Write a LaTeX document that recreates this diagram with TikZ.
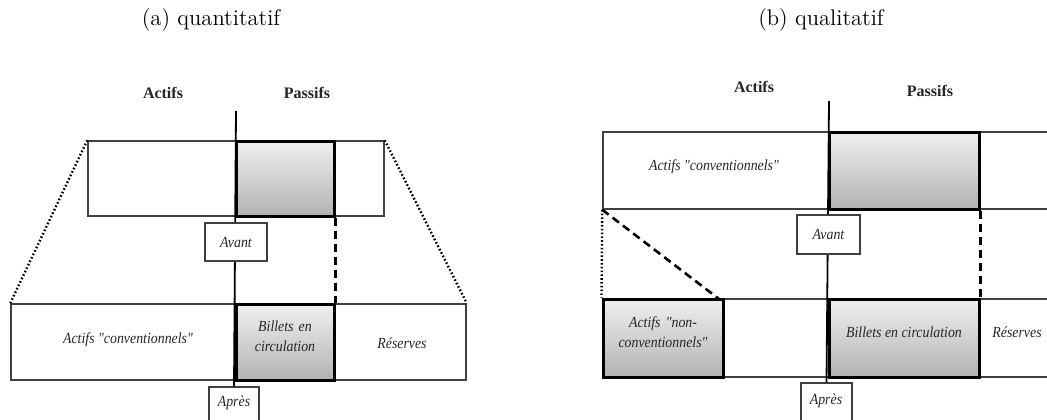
\documentclass[tikz,border=0pt]{standalone}
\usepackage{fontspec}
\newfontfamily\tnr{Liberation Serif}
\newfontfamily\tnri{Liberation Serif}[FakeStretch=0.9]
\usetikzlibrary{fit,shadows}
\begin{document}
\begin{tikzpicture}[x=0.5pt,y=-0.5pt,
  thinbox/.style={draw=black!75, line width=0.75pt, inner sep=0pt},
  graybox/.style={draw=black, line width=1.5pt, inner sep=0pt, top color=black!6, bottom color=black!30,
     drop shadow={opacity=0.25, shadow xshift=0.6pt, shadow yshift=-0.9pt}},
  lab/.style={font=\tnri\itshape\fontsize{7.7}{9}\selectfont, text=black!85},
  head/.style={font=\tnr\bfseries\fontsize{8}{9}\selectfont, text=black!85},
  captext/.style={font=\fontsize{11.3}{13}\selectfont},
  tagbox/.style={draw=black!75, line width=0.6pt, fill=white, inner sep=0pt, lab},
  axis/.style={line width=0.9pt, draw=black},
  dsh/.style={line width=1.3pt, dash pattern=on 4pt off 2.5pt},
  dts/.style={line width=1.2pt, dash pattern=on 0.8pt off 1.1pt}]
\useasboundingbox (0,0) rectangle (1047,419);

% captions
\node[captext] (capA) at (211,20) {(a) quantitatif};
\node[captext] (capB) at (821,20) {(b) qualitatif};

% ---------------- (a) ----------------
\node[head] (actA) at (163,93) {Actifs};
\node[head] (pasA) at (307,93) {Passifs};
\coordinate (vtopA) at (236,111);

\node[thinbox, fit={(88,141) (384,216)}] (topA) {};
\node[thinbox, fit={(11,304) (466,380)}] (botA) {};
\node[graybox, fit={(236,141) (334,216)}] (gtopA) {};
\node[graybox, fit={(236,304) (334,380)}, lab, align=center] (billA) {Billets en\\[1pt]circulation};
\node[lab] (convA) at (128,340) {Actifs "conventionnels"};
\node[lab] (resA) at (402,343) {Réserves};

\node[tagbox, fit={(209,387) (259,430)}] (aprA) {};
\draw[axis] (vtopA) -- (aprA.north);
\node[tagbox, fit={(205,223) (267,261)}] (avA) {};
\node[lab] (avAt) at (avA.center) {Avant};
\node[lab] (aprAt) at (234,403) {Après};

\draw[dsh] (gtopA.south east) -- (billA.north east);
\draw[dts] (topA.north west) -- (botA.north west);
\draw[dts] (topA.north east) -- (botA.north east);

% ---------------- (b) ----------------
\node[head] (actB) at (754,87) {Actifs};
\node[head] (pasB) at (930,91) {Passifs};
\coordinate (vtopB) at (829,101);

\node[thinbox, fit={(603,132) (1070,209)}] (topB) {};
\node[thinbox, fit={(603,299) (1070,377)}] (botB) {};
\node[graybox, fit={(829,132) (979,209)}] (gtopB) {};
\node[lab] (convB) at (714,167) {Actifs "conventionnels"};
\node[graybox, fit={(603,299) (723,377)}, lab, align=center] (nconvB) {Actifs "non-\\[1pt]conventionnels"};
\node[graybox, fit={(829,299) (979,377)}, lab] (billB) {Billets en circulation};
\node[lab] (resB) at (1017,332) {Réserves};

\node[tagbox, fit={(801,383) (852,430)}] (aprB) {};
\draw[axis] (vtopB) -- (aprB.north);
\node[tagbox, fit={(797,215) (860,254)}] (avB) {};
\node[lab] (avBt) at (avB.center) {Avant};
\node[lab] (aprBt) at (826,401) {Après};

\coordinate (diagB) at (719,299);
\draw[dsh] (gtopB.south east) -- (billB.north east);
\draw[dts] (topB.south west) -- (nconvB.north west);
\draw[dsh] (topB.south west) -- (diagB);
\end{tikzpicture}
\end{document}
